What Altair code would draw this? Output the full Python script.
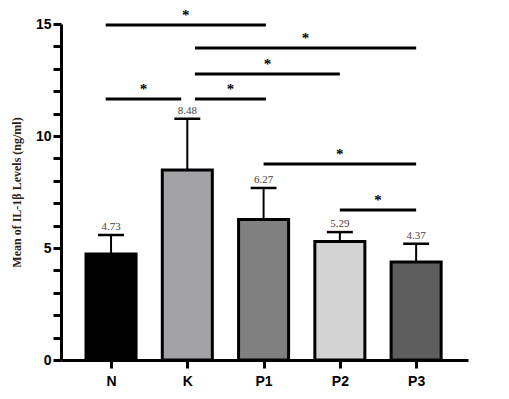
import altair as alt
import pandas as pd

# ---- data ----
groups = ["N", "K", "P1", "P2", "P3"]
means = [4.73, 8.48, 6.27, 5.29, 4.37]
upper = [5.58, 10.77, 7.68, 5.71, 5.19]
colors = ["#000000", "#a3a3a6", "#808080", "#d3d3d3", "#5e5e5e"]

sig_from = ["N", "K", "K", "N", "K", "P1", "P2"]
sig_to = ["P1", "P3", "P2", "K", "P1", "P3", "P3"]
sig_level = [14.95, 13.93, 12.77, 11.65, 11.65, 8.75, 6.70]
sig_mark = ["*", "*", "*", "*", "*", "*", "*"]

# ---- build tables ----
idx = {g: i for i, g in enumerate(groups)}
half_bar = 0.328
half_cap = 0.17

bars = pd.DataFrame({
    "group": groups,
    "pos": [idx[g] for g in groups],
    "mean": means,
    "upper": upper,
})
bars["base"] = 0.0
bars["xl"] = bars["pos"] - half_bar
bars["xr"] = bars["pos"] + half_bar
bars["cl"] = bars["pos"] - half_cap
bars["cr"] = bars["pos"] + half_cap
bars["label"] = [f"{m:.2f}" for m in means]

start_trim = {"N": -0.07, "K": 0.1}
end_trim = {"K": -0.08, "P1": 0.03}
sig = pd.DataFrame({
    "a": [idx[a] + start_trim.get(a, 0) for a in sig_from],
    "b": [idx[b] + end_trim.get(b, 0) for b in sig_to],
    "level": sig_level,
    "mark": sig_mark,
})
sig["mid"] = (sig["a"] + sig["b"]) / 2

# ---- shared scales / axes ----
xscale = alt.Scale(domain=[-0.656, 4.68], nice=False, zero=False)
yscale = alt.Scale(domain=[0, 15], nice=False)

label_js = "[" + ",".join(f"'{g}'" for g in groups) + "][datum.value]"
xaxis = alt.Axis(
    values=list(range(len(groups))), labelExpr=label_js, grid=False,
    domainColor="black", domainWidth=3, tickColor="black", tickWidth=3,
    tickSize=8, labelFont="Liberation Sans", labelFontWeight="bold",
    labelFontSize=14, labelColor="black", labelPadding=6, title=None,
)
yaxis = alt.Axis(
    values=list(range(16)), labelExpr="datum.value % 5 == 0 ? datum.value : ''",
    grid=False, domainColor="black", domainWidth=3, tickColor="black",
    tickWidth=3, tickSize=8, labelFont="Liberation Sans", labelFontWeight="bold",
    labelFontSize=14, labelColor="black", labelPadding=2,
    title="Mean of IL-1β Levels (ng/ml)", titleFont="Liberation Serif",
    titleFontWeight="bold", titleFontSize=12, titleColor="#2b2118",
    titleX=-38, titleY=168, titleAngle=-90, titleAlign="center",
    titleBaseline="bottom",
)


def X(f):
    return alt.X(f, type="quantitative", scale=xscale, axis=xaxis)


def Y(f):
    return alt.Y(f, type="quantitative", scale=yscale, axis=yaxis)


base = alt.Chart(bars)

err = base.mark_rule(color="black", strokeWidth=2).encode(
    x=X("pos"), y=Y("mean"), y2="upper"
)
cap = base.mark_rule(color="black", strokeWidth=2.5).encode(
    x=X("cl"), x2="cr", y=Y("upper")
)
bar = base.mark_rect(stroke="black", strokeWidth=3).encode(
    x=X("xl"), x2="xr", y=Y("mean"), y2="base",
    color=alt.Color("group:N", scale=alt.Scale(domain=groups, range=colors), legend=None),
)
vals = base.mark_text(
    font="Liberation Serif", fontSize=11, color="#4a4040", baseline="alphabetic", dy=-5
).encode(x=X("pos"), y=Y("upper"), text="label:N")

sig_base = alt.Chart(sig)
lines = sig_base.mark_rule(color="black", strokeWidth=3).encode(
    x=X("a"), x2="b", y=Y("level")
)
stars = sig_base.mark_text(
    font="Liberation Serif", fontWeight="bold", fontSize=15, color="black",
    baseline="alphabetic", dy=-5
).encode(x=X("mid"), y=Y("level"), text="mark:N")

chart = alt.layer(err, bar, cap, vals, lines, stars).properties(
    width=407, height=336,
    autosize=alt.AutoSizeParams(type="none"),
    padding={"left": 53, "top": 16, "right": 30, "bottom": 31},
    background="white",
).configure_view(stroke=None)

chart.save("out.html", embed_options={"renderer": "svg", "actions": False})
